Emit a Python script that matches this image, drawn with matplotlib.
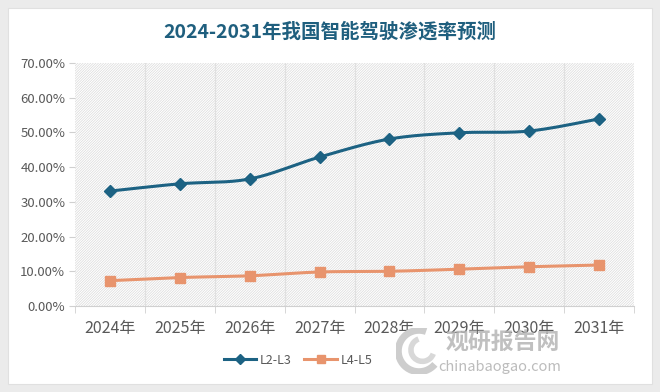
import numpy as np
import matplotlib
matplotlib.use("Agg")
import matplotlib.pyplot as plt
from matplotlib.patches import Rectangle, Arc
from matplotlib.lines import Line2D

plt.rcParams['font.family'] = ['Noto Sans CJK SC', 'DejaVu Sans']
plt.rcParams['hatch.linewidth'] = 0.5

years = ["2024年", "2025年", "2026年", "2027年", "2028年", "2029年", "2030年", "2031年"]
l2_l3 = [33.1, 35.2, 36.6, 42.9, 48.1, 49.9, 50.4, 53.9]
l4_l5 = [7.3, 8.2, 8.7, 9.8, 10.0, 10.6, 11.3, 11.8]
title = "2024-2031年我国智能驾驶渗透率预测"
series_names = ["L2-L3", "L4-L5"]

c1 = "#1c6283"
c2 = "#e8946d"


def smooth(x, y, n=20):
    x = np.asarray(x, float); y = np.asarray(y, float)
    xs, ys = [], []
    for i in range(len(x) - 1):
        p0 = (x[i - 1], y[i - 1]) if i > 0 else (x[i], y[i])
        p1 = (x[i], y[i]); p2 = (x[i + 1], y[i + 1])
        p3 = (x[i + 2], y[i + 2]) if i + 2 < len(x) else p2
        t = np.linspace(0, 1, n, endpoint=(i == len(x) - 2))
        k = 1 / 6
        b1 = (p1[0] + k * (p2[0] - p0[0]), p1[1] + k * (p2[1] - p0[1]))
        b2 = (p2[0] - k * (p3[0] - p1[0]), p2[1] - k * (p3[1] - p1[1]))
        for tt in t:
            a = (1 - tt) ** 3; b = 3 * (1 - tt) ** 2 * tt; c = 3 * (1 - tt) * tt ** 2; d = tt ** 3
            xs.append(a * p1[0] + b * b1[0] + c * b2[0] + d * p2[0])
            ys.append(a * p1[1] + b * b1[1] + c * b2[1] + d * p2[1])
    return xs, ys


fig = plt.figure(figsize=(6.6, 3.92), dpi=100)
fig.patch.set_facecolor("#ebebeb")
W, H = 660, 392
card = Rectangle((8 / W, 8 / H), 644 / W, 376 / H, transform=fig.transFigure,
                 facecolor="white", edgecolor="#e0e0e0", lw=0.8, zorder=-5)
fig.patches.append(card)

ax = fig.add_axes([75 / W, 1 - 306 / H, 559 / W, 243 / H])
ax.set_zorder(1)
ax.set_facecolor("white")
ax.add_patch(Rectangle((0, 0), 1, 1, transform=ax.transAxes, facecolor="white",
                       edgecolor="#dadada", hatch="/" * 13, lw=0, zorder=0))

x = np.arange(len(years))
for b in np.arange(0.5, len(years) - 0.5, 1):
    ax.axvline(b, color="#e0e0e0", lw=0.9, zorder=1)

sx, sy = smooth(x, l2_l3)
ax.plot(sx, sy, color=c1, lw=2.2, zorder=3, solid_capstyle="round")
ax.plot(x, l2_l3, ls="none", marker="D", ms=6, color=c1, zorder=4)
sx, sy = smooth(x, l4_l5)
ax.plot(sx, sy, color=c2, lw=2.2, zorder=3, solid_capstyle="round")
ax.plot(x, l4_l5, ls="none", marker="s", ms=7, color=c2, zorder=4)

ax.set_xlim(-0.5, len(years) - 0.5)
ax.set_ylim(0, 70)
ax.set_yticks(np.arange(0, 71, 10))
ax.set_yticklabels([f"{v:.2f}%" for v in np.arange(0, 71, 10)])
ax.set_xticks(x)
ax.set_xticklabels(years)
ax.set_xticks(np.arange(-0.5, len(years), 1), minor=True)
ax.tick_params(axis="x", which="major", length=0, labelsize=11.5, colors="#595959", pad=10)
ax.tick_params(axis="x", which="minor", length=5, color="#d0d0d0")
ax.tick_params(axis="y", length=4, color="#d0d0d0", labelsize=9.5, colors="#595959", pad=3)
for s in ["top", "right", "left"]:
    ax.spines[s].set_visible(False)
ax.spines["bottom"].set_color("#d0d0d0")

fig.text(0.5, 1 - 32 / H, title, ha="center", va="center", fontsize=14,
         fontweight="bold", color="#1f5f7e")

handles = [Line2D([], [], color=c1, lw=2.2, marker="D", ms=5),
           Line2D([], [], color=c2, lw=2.2, marker="s", ms=6)]
fig.legend(handles, series_names, loc="center", bbox_to_anchor=(298 / W, 1 - 360 / H),
           ncol=2, frameon=False, fontsize=9, labelcolor="#595959",
           handlelength=2.6, columnspacing=1.0, handletextpad=0.3)

# watermark
fig.text(503 / W, 1 - 343 / H, "观研报告网", ha="center", va="center", fontsize=16.5,
         fontweight="bold", color="#b5b5b5", alpha=0.85, zorder=10)
fig.text(500 / W, 1 - 367 / H, "chinabaogao.com", ha="center", va="center", fontsize=10.5,
         color="#b5b5b5", alpha=0.9, zorder=10)
wax = fig.add_axes([396 / W, 1 - 374 / H, 46 / W, 46 / H])
wax.set_axis_off()
wax.set_zorder(10)
wax.set_xlim(-1, 1); wax.set_ylim(-1, 1)
wax.add_patch(Arc((0, 0), 1.8, 1.8, theta1=70, theta2=320, lw=5, color="#cdcdcd"))
wax.add_patch(Arc((0.15, 0.05), 1.0, 1.0, theta1=110, theta2=340, lw=4, color="#d8d8d8"))

fig.savefig("out.png", dpi=100, facecolor=fig.get_facecolor())
